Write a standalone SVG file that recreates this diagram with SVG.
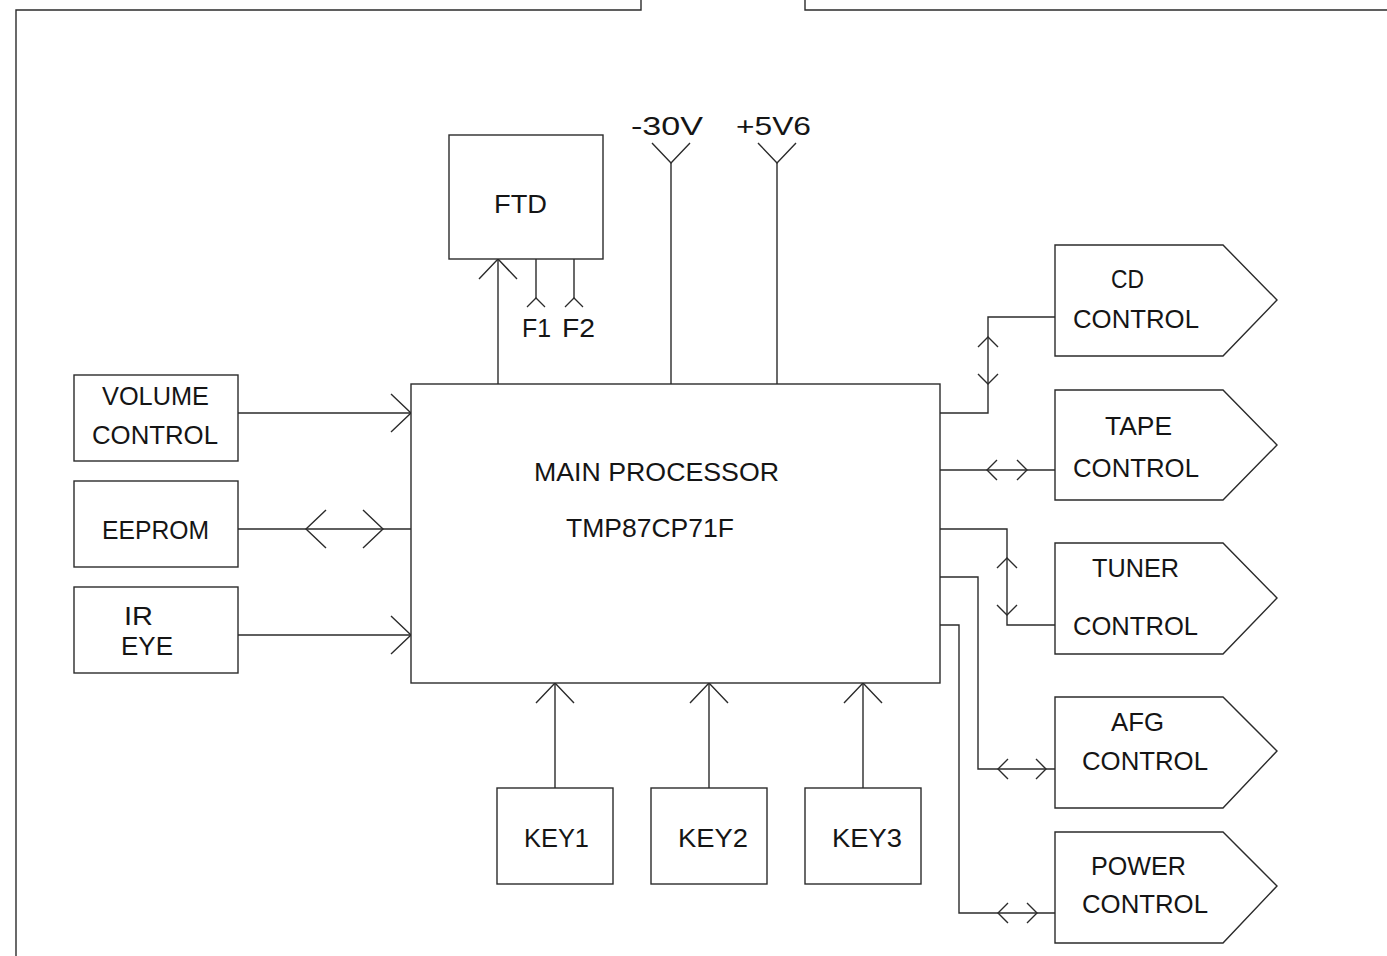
<svg xmlns="http://www.w3.org/2000/svg" xmlns:xlink="http://www.w3.org/1999/xlink" width="1387" height="956" viewBox="0 0 1387 956">
<style>
  .ln { fill: none; stroke: #2b2b2b; stroke-width: 1.4; }
  .box { fill: #ffffff; stroke: #2b2b2b; stroke-width: 1.4; }
  .t { font-family: "Liberation Sans", Arial, sans-serif; font-size: 26px; fill: #151515; }
</style>
<defs>
  <path id="chevBig" d="M-20,-19 L0,0 L-20,19" class="ln"/>
  <path id="chevSmall" d="M-10,-10 L0,0 L-10,10" class="ln"/>
</defs>
<rect x="0" y="0" width="1387" height="956" fill="#ffffff"/>

<g id="frame">
  <path class="ln" d="M16,956 L16,10 L641,10 L641,0 M805,0 L805,10 L1387,10"/>
</g>

<g id="connectors">
  <path class="ln" d="M498,384 L498,259"/>
  <path class="ln" d="M536,259 L536,298 M574,259 L574,298"/>
  <path class="ln" d="M671,384 L671,163 M777,384 L777,163"/>
  <path class="ln" d="M238,413 L411,413 M238,529 L411,529 M238,635 L411,635"/>
  <path class="ln" d="M555,788 L555,683 M709,788 L709,683 M863,788 L863,683"/>
  <path class="ln" d="M940,413 L988,413 L988,317 L1055,317"/>
  <path class="ln" d="M940,470 L1055,470"/>
  <path class="ln" d="M940,529 L1007,529 L1007,625 L1055,625"/>
  <path class="ln" d="M940,577 L978,577 L978,769 L1055,769"/>
  <path class="ln" d="M940,625 L959,625 L959,913 L1055,913"/>
  <!-- big arrowheads -->
  <use xlink:href="#chevBig" transform="translate(411,413)"/>
  <use xlink:href="#chevBig" transform="translate(411,635)"/>
  <use xlink:href="#chevBig" transform="translate(306,529) rotate(180)"/>
  <use xlink:href="#chevBig" transform="translate(383,529)"/>
  <use xlink:href="#chevBig" transform="translate(498,259) rotate(-90)"/>
  <use xlink:href="#chevBig" transform="translate(555,683) rotate(-90)"/>
  <use xlink:href="#chevBig" transform="translate(709,683) rotate(-90)"/>
  <use xlink:href="#chevBig" transform="translate(863,683) rotate(-90)"/>
  <use xlink:href="#chevBig" transform="translate(671,163) rotate(90)"/>
  <use xlink:href="#chevBig" transform="translate(777,163) rotate(90)"/>
  <!-- small forks -->
  <use xlink:href="#chevSmall" transform="translate(536,298) rotate(-90) scale(0.9)"/>
  <use xlink:href="#chevSmall" transform="translate(574,298) rotate(-90) scale(0.9)"/>
  <!-- right side small arrowheads -->
  <use xlink:href="#chevSmall" transform="translate(988,337) rotate(-90)"/>
  <use xlink:href="#chevSmall" transform="translate(988,384) rotate(90)"/>
  <use xlink:href="#chevSmall" transform="translate(987,470) rotate(180)"/>
  <use xlink:href="#chevSmall" transform="translate(1027,470)"/>
  <use xlink:href="#chevSmall" transform="translate(1007,558) rotate(-90)"/>
  <use xlink:href="#chevSmall" transform="translate(1007,615) rotate(90)"/>
  <use xlink:href="#chevSmall" transform="translate(998,769) rotate(180)"/>
  <use xlink:href="#chevSmall" transform="translate(1046,769)"/>
  <use xlink:href="#chevSmall" transform="translate(998,913) rotate(180)"/>
  <use xlink:href="#chevSmall" transform="translate(1037,913)"/>
</g>

<g id="labels-supply">
  <text class="t" x="631" y="135" textLength="72" lengthAdjust="spacingAndGlyphs">-30V</text>
  <text class="t" x="736" y="135" textLength="75" lengthAdjust="spacingAndGlyphs">+5V6</text>
  <text class="t" x="522" y="337" textLength="29" lengthAdjust="spacingAndGlyphs">F1</text>
  <text class="t" x="562" y="337" textLength="33" lengthAdjust="spacingAndGlyphs">F2</text>
</g>

<g id="ftd">
  <rect class="box" x="449" y="135" width="154" height="124"/>
  <text class="t" x="494" y="213" textLength="53" lengthAdjust="spacingAndGlyphs">FTD</text>
</g>

<g id="main-processor">
  <rect class="box" x="411" y="384" width="529" height="299"/>
  <text class="t" x="534" y="481" textLength="245" lengthAdjust="spacingAndGlyphs">MAIN PROCESSOR</text>
  <text class="t" x="566" y="537" textLength="168" lengthAdjust="spacingAndGlyphs">TMP87CP71F</text>
</g>

<g id="volume-control">
  <rect class="box" x="74" y="375" width="164" height="86"/>
  <text class="t" x="102" y="405" textLength="107" lengthAdjust="spacingAndGlyphs">VOLUME</text>
  <text class="t" x="92" y="444" textLength="126" lengthAdjust="spacingAndGlyphs">CONTROL</text>
</g>

<g id="eeprom">
  <rect class="box" x="74" y="481" width="164" height="86"/>
  <text class="t" x="102" y="539" textLength="107" lengthAdjust="spacingAndGlyphs">EEPROM</text>
</g>

<g id="ir-eye">
  <rect class="box" x="74" y="587" width="164" height="86"/>
  <text class="t" x="124" y="625" textLength="29" lengthAdjust="spacingAndGlyphs">IR</text>
  <text class="t" x="121" y="655" textLength="52" lengthAdjust="spacingAndGlyphs">EYE</text>
</g>

<g id="key1">
  <rect class="box" x="497" y="788" width="116" height="96"/>
  <text class="t" x="524" y="847" textLength="65" lengthAdjust="spacingAndGlyphs">KEY1</text>
</g>
<g id="key2">
  <rect class="box" x="651" y="788" width="116" height="96"/>
  <text class="t" x="678" y="847" textLength="70" lengthAdjust="spacingAndGlyphs">KEY2</text>
</g>
<g id="key3">
  <rect class="box" x="805" y="788" width="116" height="96"/>
  <text class="t" x="832" y="847" textLength="70" lengthAdjust="spacingAndGlyphs">KEY3</text>
</g>

<g id="cd-control">
  <path class="box" d="M1055,245 L1223,245 L1277,300 L1223,356 L1055,356 Z"/>
  <text class="t" x="1111" y="288" textLength="33" lengthAdjust="spacingAndGlyphs">CD</text>
  <text class="t" x="1073" y="328" textLength="126" lengthAdjust="spacingAndGlyphs">CONTROL</text>
</g>

<g id="tape-control">
  <path class="box" d="M1055,390 L1223,390 L1277,445 L1223,500 L1055,500 Z"/>
  <text class="t" x="1105" y="435" textLength="67" lengthAdjust="spacingAndGlyphs">TAPE</text>
  <text class="t" x="1073" y="477" textLength="126" lengthAdjust="spacingAndGlyphs">CONTROL</text>
</g>

<g id="tuner-control">
  <path class="box" d="M1055,543 L1223,543 L1277,598 L1223,654 L1055,654 Z"/>
  <text class="t" x="1092" y="577" textLength="87" lengthAdjust="spacingAndGlyphs">TUNER</text>
  <text class="t" x="1073" y="635" textLength="125" lengthAdjust="spacingAndGlyphs">CONTROL</text>
</g>

<g id="afg-control">
  <path class="box" d="M1055,697 L1223,697 L1277,751 L1223,808 L1055,808 Z"/>
  <text class="t" x="1111" y="731" textLength="53" lengthAdjust="spacingAndGlyphs">AFG</text>
  <text class="t" x="1082" y="770" textLength="126" lengthAdjust="spacingAndGlyphs">CONTROL</text>
</g>

<g id="power-control">
  <path class="box" d="M1055,832 L1223,832 L1277,886 L1223,943 L1055,943 Z"/>
  <text class="t" x="1091" y="875" textLength="95" lengthAdjust="spacingAndGlyphs">POWER</text>
  <text class="t" x="1082" y="913" textLength="126" lengthAdjust="spacingAndGlyphs">CONTROL</text>
</g>
</svg>
